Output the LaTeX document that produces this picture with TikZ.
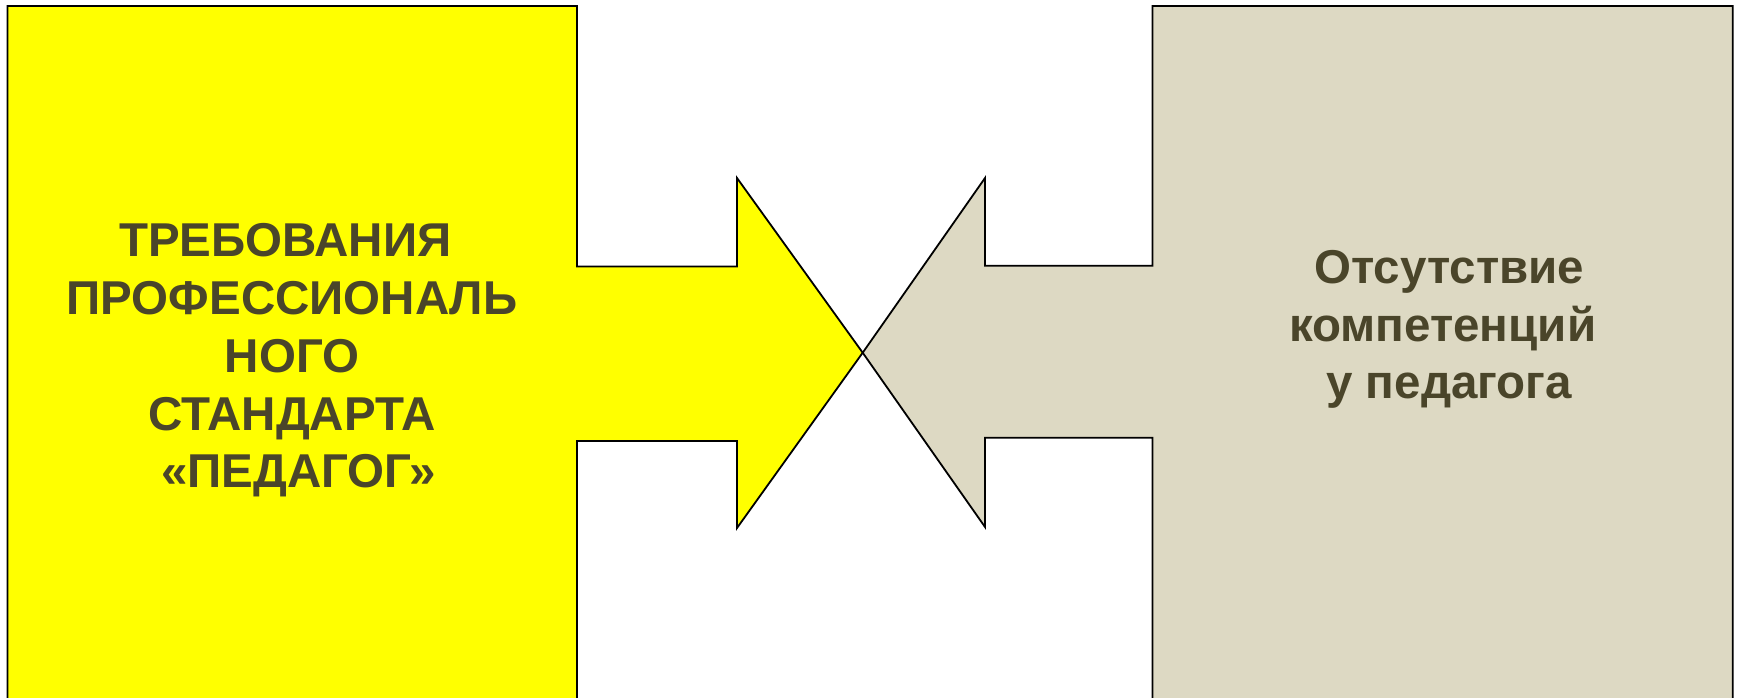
\documentclass[tikz,border=0pt]{standalone}
\usepackage{fontspec}
\setmainfont{Liberation Sans}
\definecolor{reqyellow}{HTML}{FFFF00}
\definecolor{gapbeige}{HTML}{DDD9C3}
\definecolor{olivetext}{HTML}{4A452A}
\tikzset{
  reqshape/.style={draw=black, line width=1.8pt, line join=miter, fill=reqyellow},
  gapshape/.style={draw=black, line width=1.8pt, line join=miter, fill=gapbeige},
  bigtext/.style={align=center, inner sep=0pt, text=olivetext,
    font=\fontsize{47.5}{57.8}\selectfont\bfseries}
}
\begin{document}
\begin{tikzpicture}[x=1pt, y=-1pt]
  \useasboundingbox (0,0) rectangle (1741,698);
  \clip (0,0) rectangle (1741,698);

  % left callout, arrow pointing right
  \draw[reqshape] (7.5,6) -- (577,6) -- (577,266.5) -- (737,266.5) -- (737,178)
    -- (862.7,352.7) -- (737,528) -- (737,441) -- (577,441) -- (577,720)
    -- (7.5,720) -- cycle;
  % right callout, arrow pointing left
  \draw[gapshape] (1732.7,6) -- (1152.5,6) -- (1152.5,265.7) -- (985,265.7) -- (985,178)
    -- (862.7,352.7) -- (985,527) -- (985,437.7) -- (1152.5,437.7) -- (1152.5,720)
    -- (1732.7,720) -- cycle;

  \node[bigtext] (req) at (292,360.5) {ТРЕБОВАНИЯ\hspace*{0.28em}\\ПРОФЕССИОНАЛЬ\\НОГО\\СТАНДАРТА\\\hspace*{0.28em}«ПЕДАГОГ»};
  \node[bigtext] (gap) at (1442.6,329.5) {\hspace*{0.28em}Отсутствие\\компетенций\\\hspace*{0.28em}у педагога};
\end{tikzpicture}
\end{document}
